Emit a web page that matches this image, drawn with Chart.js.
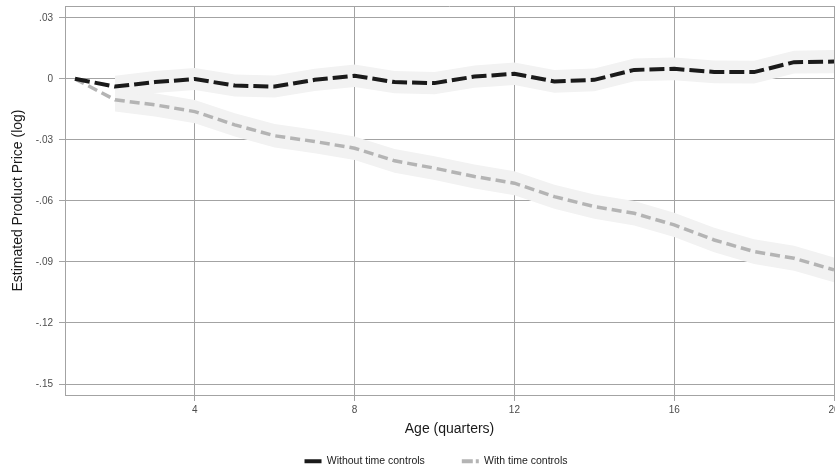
<!DOCTYPE html>
<html><head><meta charset="utf-8">
<style>html,body{margin:0;padding:0;background:#fff}#wrap{width:835px;height:470px;position:relative}</style>
<script src="https://cdn.jsdelivr.net/npm/chart.js@4.4.1/dist/chart.umd.min.js"></script>
</head><body><div id="wrap"><canvas id="c" width="835" height="470"></canvas></div>
<script>
const ages = [1,2,3,4,5,6,7,8,9,10,11,12,13,14,15,16,17,18,19,20];
const withoutControls = [0,-0.0038,-0.0016,-0.0001,-0.0033,-0.0038,-0.0005,0.0015,-0.0016,-0.0021,0.0011,0.0025,-0.0013,-0.0005,0.0044,0.0049,0.0034,0.0033,0.0082,0.0085];
const withoutLow  = [null,-0.0091,-0.0070,-0.0055,-0.0087,-0.0092,-0.0060,-0.0040,-0.0071,-0.0076,-0.0044,-0.0030,-0.0069,-0.0061,-0.0012,-0.0007,-0.0022,-0.0023,0.0026,0.0028];
const withoutHigh = [null,0.0015,0.0038,0.0053,0.0021,0.0016,0.0050,0.0070,0.0039,0.0034,0.0066,0.0080,0.0043,0.0051,0.0100,0.0105,0.0090,0.0089,0.0138,0.0142];
const withControls = [0,-0.0103,-0.0128,-0.0161,-0.0226,-0.0280,-0.0308,-0.0341,-0.0403,-0.0439,-0.0480,-0.0513,-0.0579,-0.0628,-0.0661,-0.0718,-0.0792,-0.0849,-0.0882,-0.0939];
const withLow  = [null,-0.0160,-0.0185,-0.0218,-0.0283,-0.0338,-0.0366,-0.0399,-0.0461,-0.0497,-0.0539,-0.0572,-0.0638,-0.0688,-0.0721,-0.0778,-0.0852,-0.0910,-0.0943,-0.1000];
const withHigh = [null,-0.0046,-0.0071,-0.0104,-0.0169,-0.0222,-0.0250,-0.0283,-0.0345,-0.0381,-0.0421,-0.0454,-0.0520,-0.0568,-0.0601,-0.0658,-0.0732,-0.0788,-0.0821,-0.0878];
const xTicks = [4,8,12,16,20];
const yTicks = [-0.15,-0.12,-0.09,-0.06,-0.03,0,0.03];
const seriesNames = ['Without time controls','With time controls'];
const xTitle = 'Age (quarters)';
const yTitle = 'Estimated Product Price (log)';

const FONT = "'Liberation Sans', Arial, sans-serif";
const GRID = '#a3a3a3';
const BAND = '#f2f2f2';
const BLACK = '#1a1a1a';
const GRAY = '#b4b4b4';

const pts = arr => ages.map((a, i) => ({x: a, y: arr[i]}));
const fmtY = v => v === 0 ? '0' : (v < 0 ? '-' : '') + Math.abs(v).toFixed(2).replace(/^0/, '');

const frame = {
  id: 'frame',
  beforeDatasetsDraw(chart) {
    const {ctx, chartArea: a} = chart;
    ctx.save();
    ctx.strokeStyle = GRID; ctx.lineWidth = 1;
    ctx.beginPath();
    ctx.moveTo(a.left, Math.round(a.top) + 0.5);
    ctx.lineTo(a.right, Math.round(a.top) + 0.5);
    ctx.stroke();
    ctx.restore();
  }
};
const legendPlace = {
  id: 'legendPlace',
  afterLayout(chart) {
    const l = chart.legend;
    l.top = 461 - l.options.labels.padding - 5;
    l.bottom = 470;
    l.height = l.bottom - l.top;
    l.left += 19; l.right += 19;
  }
};

new Chart(document.getElementById('c'), {
  type: 'line',
  data: {
    datasets: [
      {data: pts(withoutLow), borderWidth: 0, pointRadius: 0, fill: false, order: 5},
      {data: pts(withoutHigh), borderWidth: 0, pointRadius: 0, fill: '-1', backgroundColor: BAND, order: 5},
      {data: pts(withLow), borderWidth: 0, pointRadius: 0, fill: false, order: 5},
      {data: pts(withHigh), borderWidth: 0, pointRadius: 0, fill: '-1', backgroundColor: BAND, order: 5},
      {label: seriesNames[0], data: pts(withoutControls), borderColor: BLACK, borderWidth: 4, borderDash: [15, 5], pointRadius: 0, fill: false, order: 1},
      {label: seriesNames[1], data: pts(withControls), borderColor: GRAY, borderWidth: 3.5, borderDash: [10, 5], pointRadius: 0, fill: false, order: 2}
    ]
  },
  options: {
    responsive: false, animation: false, devicePixelRatio: 1,
    layout: {padding: {top: 6, right: 1, left: 0, bottom: 0}},
    elements: {line: {tension: 0, borderCapStyle: 'butt'}},
    plugins: {
      tooltip: {enabled: false},
      legend: {
        position: 'bottom', maxHeight: 30, onClick: null,
        labels: {
          usePointStyle: true, pointStyleWidth: 17, boxHeight: 10, padding: 37,
          font: {family: FONT, size: 10.5}, color: BLACK,
          generateLabels: () => [
            {text: seriesNames[0], pointStyle: 'line', strokeStyle: BLACK, fillStyle: BLACK, lineWidth: 4, lineDash: [], hidden: false, fontColor: BLACK},
            {text: seriesNames[1], pointStyle: 'line', strokeStyle: GRAY, fillStyle: GRAY, lineWidth: 4, lineDash: [11, 3], hidden: false, fontColor: BLACK}
          ]
        }
      }
    },
    scales: {
      x: {
        type: 'linear', min: 0.75, max: 20,
        afterBuildTicks: s => { s.ticks = xTicks.map(v => ({value: v})); },
        afterFit: s => { s.height = 45; s.paddingLeft = 0; s.paddingRight = 0; },
        ticks: {autoSkip: false, maxRotation: 0, padding: 3, color: '#4d4d4d', font: {family: FONT, size: 10}},
        grid: {color: GRID, tickColor: GRID, tickLength: 6, drawTicks: true},
        border: {display: true, color: GRID},
        title: {display: true, text: xTitle, color: BLACK, font: {family: FONT, size: 14}, padding: {top: 0, bottom: 2}}
      },
      y: {
        type: 'linear', min: -0.1554, max: 0.0358,
        afterBuildTicks: s => { s.ticks = yTicks.map(v => ({value: v})); },
        afterFit: s => { s.width = 65; s.paddingTop = 0; s.paddingBottom = 0; },
        ticks: {autoSkip: false, padding: 6, color: '#4d4d4d', font: {family: FONT, size: 10}, callback: v => fmtY(v)},
        grid: {color: GRID, tickColor: GRID, tickLength: 6, drawTicks: true},
        border: {display: true, color: GRID},
        title: {display: true, text: yTitle, color: BLACK, font: {family: FONT, size: 14}, padding: {top: 10, bottom: 0}}
      }
    }
  },
  plugins: [frame, legendPlace]
});
</script></body></html>
